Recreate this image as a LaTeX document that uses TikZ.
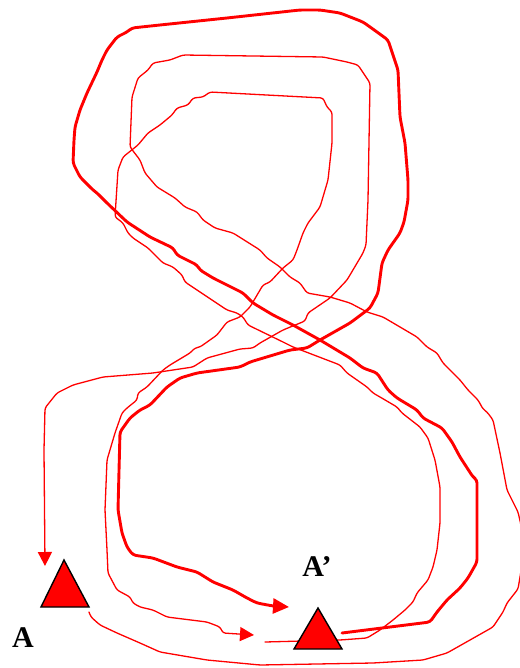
\documentclass[tikz,border=0pt]{standalone}
\usepackage{fontspec}
\setmainfont{Liberation Serif}
\usetikzlibrary{arrows.meta}
\definecolor{pathred}{RGB}{255,0,0}
\tikzset{
  thinpath/.style={draw=pathred, line width=1.3pt, line join=round, line cap=round, rounded corners=2.5pt},
  thickpath/.style={draw=pathred, line width=2.9pt, line join=round, line cap=round, rounded corners=3pt},
  thinarrow/.style={-{Triangle[length=14pt,width=14pt]}},
  thickarrow/.style={-{Triangle[length=16pt,width=15pt]}},
  marker/.style={fill=pathred, draw=black, line width=1.4pt, line join=miter},
  lbl/.style={font=\fontsize{30}{30}\selectfont\bfseries, inner sep=0pt}
}
\begin{document}
\begin{tikzpicture}[x=1pt,y=-1pt]
\useasboundingbox (0,0) rectangle (519,668);
% named points
\coordinate (Aright) at (89,612);
\coordinate (Atop) at (45,566);
\coordinate (Bright) at (342,633);
\coordinate (Bleftup) at (289,607);
\coordinate (Bleftlow) at (254,635);
\coordinate (Bstart) at (265,642);

% outer thin loop: from A around and back to A
\draw[thinpath, thinarrow] (Aright) -- (91,617) -- (100,625) -- (117,633) -- (140,643) -- (160,652) -- (207,660) -- (260,665) -- (373,663) -- (423,660) -- (447,653) -- (493,627) -- (503,612) -- (507,603) -- (518,589) -- (522,565) -- (521,525) -- (518,512) -- (507,490) -- (500,453) -- (493,420) -- (487,412) -- (483,409) -- (478,400) -- (468,390) -- (460,380) -- (443,363) -- (437,353) -- (427,347) -- (417,337) -- (400,327) -- (383,317) -- (367,312) -- (350,303) -- (330,297) -- (307,293) -- (300,283) -- (290,277) -- (280,267) -- (267,258) -- (260,250) -- (233,233) -- (215,228) -- (203,220) -- (197,212) -- (185,207) -- (175,198) -- (157,187) -- (145,173) -- (140,160) -- (130,147) -- (132,97) -- (138,78) -- (148,70) -- (153,63) -- (170,60) -- (183,55) -- (323,57) -- (347,62) -- (358,65) -- (370,83) -- (368,200) -- (366,245) -- (363,253) -- (347,280) -- (330,298) -- (308,313) -- (305,321) -- (283,330) -- (260,343) -- (253,348) -- (240,349) -- (207,358) -- (193,367) -- (153,373) -- (103,377) -- (73,385) -- (57,393) -- (45,408) -- (44,450) -- (Atop);

% thick loop: from A' around and back to A'
\draw[thickpath, thickarrow] (Bright) -- (430,622) -- (437,612) -- (447,600) -- (460,588) -- (468,578) -- (477,562) -- (477,480) -- (473,477) -- (460,457) -- (452,442) -- (442,428) -- (423,418) -- (417,410) -- (397,398) -- (388,390) -- (377,373) -- (363,368) -- (350,358) -- (320,340) -- (293,325) -- (273,315) -- (253,303) -- (243,293) -- (237,290) -- (213,278) -- (200,270) -- (197,265) -- (187,260) -- (177,255) -- (173,248) -- (150,237) -- (127,222) -- (107,203) -- (97,193) -- (93,190) -- (80,177) -- (73,163) -- (74,140) -- (75,127) -- (80,110) -- (87,93) -- (97,72) -- (102,60) -- (107,50) -- (117,37) -- (127,32) -- (132,28) -- (160,25) -- (227,18) -- (300,10) -- (320,10) -- (340,13) -- (363,22) -- (377,32) -- (388,40) -- (398,70) -- (400,117) -- (405,143) -- (408,180) -- (408,200) -- (404,222) -- (400,233) -- (388,250) -- (382,263) -- (378,293) -- (370,308) -- (350,323) -- (320,340) -- (307,348) -- (290,350) -- (250,362) -- (240,367) -- (197,373) -- (180,378) -- (167,387) -- (150,405) -- (140,410) -- (130,418) -- (120,432) -- (118,510) -- (122,533) -- (127,547) -- (133,555) -- (153,558) -- (177,567) -- (197,572) -- (213,582) -- (233,590) -- (247,598) -- (257,603) -- (273,606) -- (Bleftup);

% middle thin loop: from A' around and back to A'
\draw[thinpath, thinarrow] (Bstart) -- (340,640) -- (367,638) -- (380,630) -- (393,620) -- (405,610) -- (413,602) -- (417,593) -- (428,580) -- (433,567) -- (437,550) -- (440,523) -- (440,487) -- (435,460) -- (428,438) -- (420,427) -- (402,413) -- (397,407) -- (380,397) -- (373,393) -- (367,387) -- (347,373) -- (340,365) -- (293,347) -- (283,342) -- (248,325) -- (243,317) -- (237,313) -- (227,310) -- (185,282) -- (182,275) -- (173,267) -- (163,263) -- (150,250) -- (148,248) -- (133,238) -- (128,233) -- (123,223) -- (115,217) -- (118,170) -- (123,157) -- (138,145) -- (148,133) -- (160,125) -- (172,115) -- (177,108) -- (188,105) -- (193,98) -- (203,97) -- (210,92) -- (323,98) -- (327,107) -- (332,112) -- (332,143) -- (328,180) -- (320,207) -- (308,223) -- (303,233) -- (297,250) -- (293,260) -- (283,268) -- (270,282) -- (263,285) -- (250,307) -- (240,317) -- (227,322) -- (217,335) -- (200,347) -- (195,348) -- (190,353) -- (170,365) -- (163,370) -- (147,387) -- (138,393) -- (137,400) -- (127,408) -- (122,413) -- (115,433) -- (107,460) -- (105,510) -- (107,550) -- (108,573) -- (117,590) -- (130,597) -- (133,603) -- (140,607) -- (153,610) -- (167,617) -- (207,622) -- (220,627) -- (223,633) -- (Bleftlow);

% markers
\path[marker] (41,607) -- (64,560) -- (89,607) -- cycle;
\path[marker] (294,649) -- (318,608) -- (342,649) -- cycle;

% labels
\node[lbl] (labA) at (23,638) {A};
\node[lbl] (labB) at (317,567) {A’};
\end{tikzpicture}
\end{document}
